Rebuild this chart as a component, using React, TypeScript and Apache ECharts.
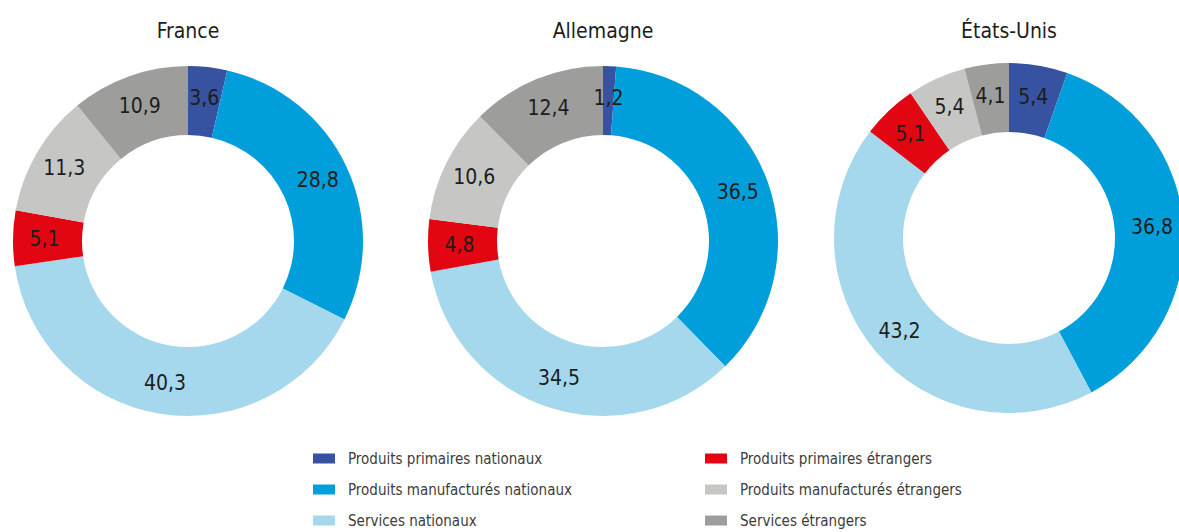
import React, { useEffect, useRef } from "react";
import * as echarts from "echarts";

const categories = [
  "Produits primaires nationaux",
  "Produits manufacturés nationaux",
  "Services nationaux",
  "Produits primaires étrangers",
  "Produits manufacturés étrangers",
  "Services étrangers",
];
const colors = ["#3752A0", "#009FDC", "#A5D8EC", "#E20613", "#C6C6C5", "#9D9D9C"];
const countries = ["France", "Allemagne", "États-Unis"];
const franceValues = [3.6, 28.8, 40.3, 5.1, 11.3, 10.9];
const allemagneValues = [1.2, 36.5, 34.5, 4.8, 10.6, 12.4];
const etatsUnisValues = [5.4, 36.8, 43.2, 5.1, 5.4, 4.1];
const allValues = [franceValues, allemagneValues, etatsUnisValues];

const centers: [number, number][] = [
  [188, 241],
  [603, 241],
  [1009, 238],
];
const FONT = "'Liberation Sans Narrow', 'DejaVu Sans Condensed', sans-serif";

export default function App() {
  const ref = useRef<HTMLDivElement>(null);
  useEffect(() => {
    if (!ref.current) return;
    const chart = echarts.init(ref.current, null, { renderer: "svg" });
    const series = allValues.map((vals, i) => ({
      type: "pie",
      name: countries[i],
      center: centers[i],
      radius: [106, 175],
      startAngle: 90,
      clockwise: true,
      avoidLabelOverlap: false,
      silent: true,
      itemStyle: { borderWidth: 0 },
      label: {
        show: true,
        position: "inside",
        color: "#1d1d1b",
        fontFamily: FONT,
        fontSize: 21,
        formatter: (p: any) => p.value.toFixed(1).replace(".", ","),
      },
      labelLine: { show: false },
      data: vals.map((v, j) => ({
        name: categories[j],
        value: v,
        itemStyle: { color: colors[j] },
      })),
    }));
    const legendCommon = {
      orient: "vertical",
      top: 451,
      height: 120,
      itemWidth: 22,
      itemHeight: 10,
      itemGap: 16,
      icon: "rect",
      selectedMode: false,
      padding: 0,
      textStyle: {
        fontFamily: FONT,
        fontSize: 15,
        color: "#3c3c3b",
        padding: [0, 0, 0, 8],
      },
    };
    chart.setOption({
      animation: false,
      backgroundColor: "#ffffff",
      legend: [
        { ...legendCommon, left: 313, data: categories.slice(0, 3) },
        { ...legendCommon, left: 705, data: categories.slice(3, 6) },
      ],
      graphic: countries.map((c, i) => ({
        type: "text",
        x: centers[i][0],
        y: 31,
        style: {
          text: c,
          fontFamily: FONT,
          fontSize: 21,
          fill: "#1d1d1b",
          textAlign: "center",
          textVerticalAlign: "middle",
        },
      })),
      series,
    });
    return () => chart.dispose();
  }, []);
  return (
    <div
      ref={ref}
      style={{ position: "absolute", left: 0, top: 0, width: 1179, height: 532 }}
    />
  );
}
